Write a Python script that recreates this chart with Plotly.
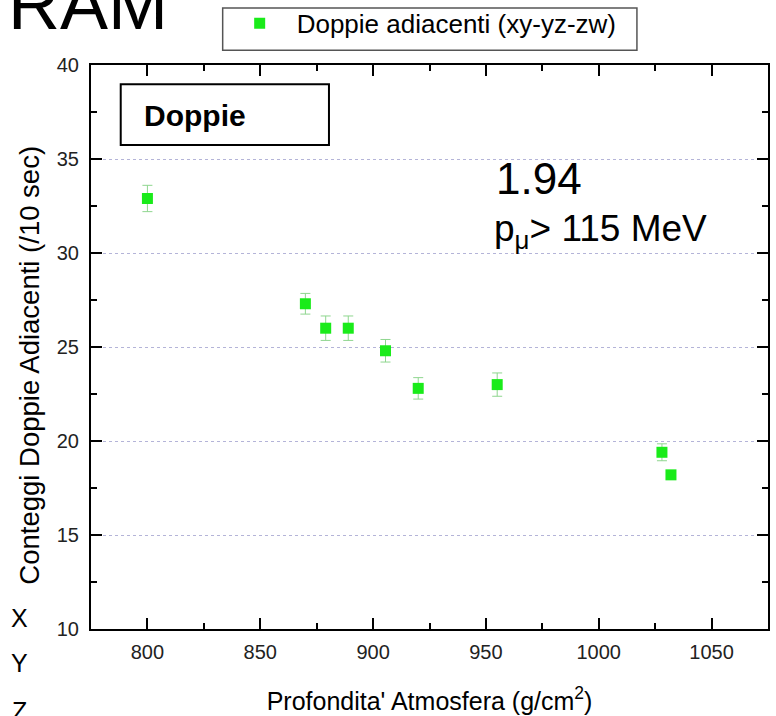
import plotly.graph_objects as go

# Profondita' atmosferica (g/cm^2) e conteggi doppie adiacenti (/10 sec)
depth = [800, 870, 879, 889, 905.5, 920, 955, 1028, 1032]
counts = [32.9, 27.3, 26.0, 26.0, 24.8, 22.8, 23.0, 19.4, 18.2]
errors = [0.7, 0.55, 0.65, 0.65, 0.6, 0.57, 0.62, 0.45, 0.2]

series_name = 'Doppie adiacenti (xy-yz-zw)'
x_ticks = [800, 850, 900, 950, 1000, 1050]
y_ticks = [10, 15, 20, 25, 30, 35, 40]

FONT = 'Arial, Liberation Sans, sans-serif'

fig = go.Figure()
fig.add_trace(go.Scatter(
    x=depth, y=counts,
    mode='markers',
    name=series_name,
    marker=dict(symbol='square', size=11, color='#1aeb1a'),
    error_y=dict(type='data', array=errors, visible=True,
                 color='#8fd68f', thickness=1, width=5),
))

axis_common = dict(
    showline=True, linecolor='black', linewidth=2,
    ticks='inside', tickwidth=2, ticklen=11, tickcolor='black',
    mirror='ticks', zeroline=False, automargin=False,
    tickfont=dict(family=FONT, size=20, color='#222'),
)

fig.update_layout(
    width=776, height=716,
    margin=dict(l=91, r=8, t=65, b=87, autoexpand=False),
    plot_bgcolor='white', paper_bgcolor='white',
    font=dict(family=FONT, color='black'),
    showlegend=True,
    legend=dict(
        x=0.1945, y=1.1155, xanchor='left', yanchor='top',
        borderwidth=0, bgcolor='rgba(0,0,0,0)',
        font=dict(family=FONT, size=26, color='black'),
        itemwidth=64,
    ),
    xaxis=dict(
        range=[775, 1075], tickvals=x_ticks,
        minor=dict(ticks='inside', ticklen=6, tickwidth=2, dtick=25, tick0=775, tickcolor='black'),
        showgrid=False,
        ticklabelstandoff=4,
        title=dict(text="Profondita' Atmosfera (g/cm<sup>2</sup>)",
                   font=dict(family=FONT, size=25), standoff=30),
        **axis_common,
    ),
    yaxis=dict(
        range=[10, 40], tickvals=y_ticks,
        minor=dict(ticks='inside', ticklen=6, tickwidth=2, dtick=2.5, tickcolor='black'),
        showgrid=True, gridcolor='#b4b4d8', griddash='dot', gridwidth=1,
        ticklabelstandoff=6,
        **axis_common,
    ),
)

# cornice della legenda
fig.add_shape(type='rect', xref='paper', yref='paper',
              x0=0.1945, x1=0.8064, y0=1.0262, y1=1.1011,
              line=dict(color='#555', width=1.5), fillcolor='rgba(0,0,0,0)', layer='above')

# titolo asse y (spostato rispetto al centro come nell'originale)
fig.add_annotation(xref='paper', yref='paper', x=-0.09, y=0.467,
                   xanchor='center', yanchor='middle', showarrow=False, textangle=-90,
                   text='Conteggi Doppie Adiacenti (/10 sec)',
                   font=dict(family=FONT, size=27.5, color='black'))

# riquadro "Doppie"
fig.add_shape(type='rect', xref='paper', yref='paper',
              x0=0.0439, x1=0.3515, y0=0.858, y1=0.9658,
              line=dict(color='black', width=2), fillcolor='white', layer='above')
fig.add_annotation(xref='paper', yref='paper', x=0.0749, y=0.911,
                   xanchor='left', yanchor='middle', showarrow=False,
                   text='<b>Doppie</b>', font=dict(family=FONT, size=30, color='black'))

fig.add_annotation(xref='paper', yref='paper', x=0.596, y=0.798,
                   xanchor='left', yanchor='middle', showarrow=False,
                   text='1.94', font=dict(family=FONT, size=44, color='black'))
fig.add_annotation(xref='paper', yref='paper', x=0.593, y=0.705,
                   xanchor='left', yanchor='middle', showarrow=False,
                   text='p<sub>μ</sub>> 115 MeV', font=dict(family=FONT, size=37, color='black'))

# testo della slide fuori dal grafico
fig.add_annotation(xref='paper', yref='paper', x=0.116, y=1.108,
                   xanchor='right', yanchor='middle', showarrow=False,
                   text='RAM', font=dict(family=FONT, size=72, color='black'))
for lab, yy in zip(['X', 'Y', 'Z'], [0.0195, -0.0603, -0.145]):
    fig.add_annotation(xref='paper', yref='paper', x=-0.105, y=yy,
                       xanchor='center', yanchor='middle', showarrow=False,
                       text=lab, font=dict(family=FONT, size=25, color='black'))

# niente margine di pagina: la figura parte dall'angolo in alto a sinistra
fig.write_html("out.html", config={'displayModeBar': False},
               post_script="document.body.style.margin='0';")
